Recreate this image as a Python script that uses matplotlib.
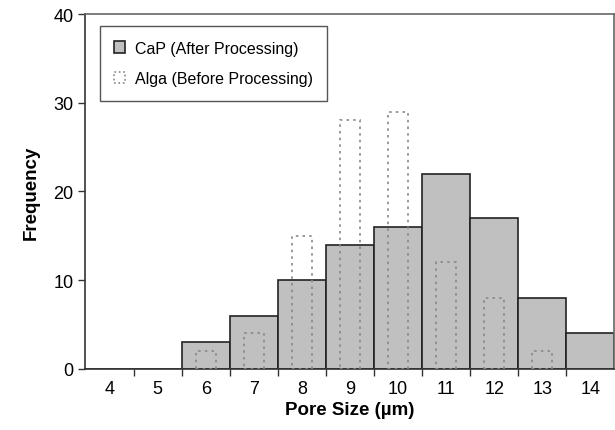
import matplotlib.pyplot as plt
from matplotlib.patches import Patch

# Pore size histogram data
pore_size = [4, 5, 6, 7, 8, 9, 10, 11, 12, 13, 14]
cap_freq = [0, 0, 3, 6, 10, 14, 16, 22, 17, 8, 4]
alga_freq = [0, 0, 2, 4, 15, 28, 29, 12, 8, 2, 0]

plt.rcParams['font.family'] = ['Liberation Sans', 'DejaVu Sans']

fig = plt.figure(figsize=(6.15, 4.31), dpi=100)
ax = fig.add_axes([0.139, 0.142, 0.86, 0.823])

ax.bar(pore_size, cap_freq, width=1.0, color='#c0c0c0', edgecolor='#222222', linewidth=1.2, zorder=2)
ax.bar(pore_size, [v if v > 0 else float('nan') for v in alga_freq], width=0.42, facecolor='none',
       edgecolor='#888888', linestyle=(0, (1.5, 2.5)), linewidth=1.2, zorder=3)

ax.set_xlim(3.5, 14.5)
ax.set_ylim(0, 40)
ax.set_yticks([0, 10, 20, 30, 40])
ax.set_xticks(pore_size)
ax.set_xticklabels([str(p) for p in pore_size])
ax.set_xticks([p + 0.5 for p in pore_size[:-1]], minor=True)
ax.tick_params(axis='x', which='major', length=0, labelsize=13, pad=8)
ax.tick_params(axis='x', which='minor', length=5, direction='out', width=1, color='#333333')
ax.tick_params(axis='y', length=5, direction='out', labelsize=13, width=1, color='#333333')

for s in ['left', 'bottom']:
    ax.spines[s].set_color('#333333')
    ax.spines[s].set_linewidth(1.2)
for s in ['top', 'right']:
    ax.spines[s].set_color('#666666')
    ax.spines[s].set_linewidth(1.2)

ax.set_xlabel('Pore Size (\u00b5m)', fontsize=13.5, fontweight='bold', labelpad=3)
ax.set_ylabel('Frequency', fontsize=13.5, fontweight='bold', labelpad=10)

handles = [Patch(facecolor='#c0c0c0', edgecolor='#222222', linewidth=1.2),
           Patch(facecolor='none', edgecolor='#888888', linestyle=':', linewidth=1.2)]
leg = ax.legend(handles, ['CaP (After Processing)', 'Alga (Before Processing)'],
                loc='upper left', bbox_to_anchor=(0.027, 0.966), fontsize=11.5,
                fancybox=False, framealpha=1, edgecolor='#555555',
                handlelength=0.7, handleheight=0.7, handletextpad=0.6,
                labelspacing=1.0, borderpad=0.9, borderaxespad=0)
leg.get_frame().set_linewidth(1.0)

plt.savefig('out.png', dpi=100)
